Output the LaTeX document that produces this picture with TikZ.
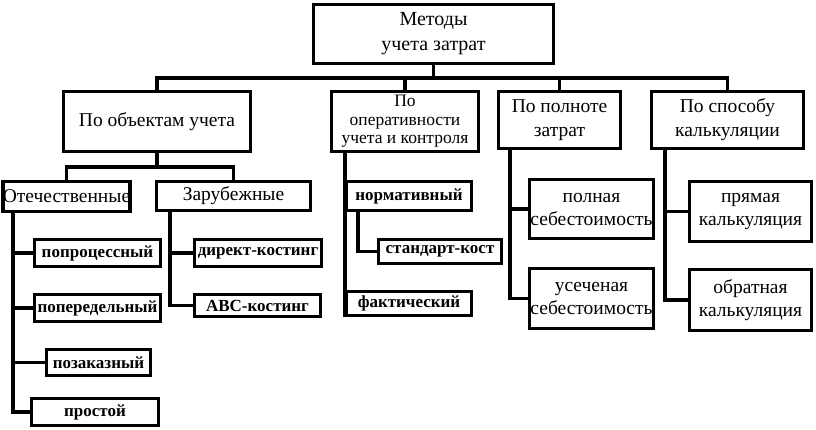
\documentclass[tikz,border=0pt]{standalone}
\usepackage{fontspec}
\setmainfont{Liberation Serif}
\tikzset{
  box/.style={draw,line width=3.5pt,inner sep=0pt,align=center,font=\fontsize{19.5}{24}\selectfont},
  leaf/.style={box,font=\bfseries\fontsize{17}{20}\selectfont},
  link/.style={line width=3.5pt},
}
\begin{document}
\begin{tikzpicture}[x=1pt,y=-1pt]
  \useasboundingbox (0,0) rectangle (816,429);

  \node[box,minimum width=240pt,minimum height=59pt,font=\fontsize{20}{25}\selectfont] (top) at (433.5,34) {Методы\\учета затрат};

  \node[box,minimum width=187pt,minimum height=60pt] (obj) at (157,121.5) {По объектам учета};
  \node[box,minimum width=147pt,minimum height=60pt,font=\fontsize{17.5}{18.5}\selectfont] (oper) at (405,121.5) {По\\оперативности\\учета и контроля};
  \node[box,minimum width=122pt,minimum height=57pt] (full) at (559.5,120) {По полноте\\затрат};
  \node[box,minimum width=152pt,minimum height=57pt] (calc) at (727.5,120) {По способу\\калькуляции};

  \node[box,minimum width=124pt,minimum height=30pt] (domestic) at (66.5,196.5) {Отечественные};
  \node[box,minimum width=154pt,minimum height=29pt] (foreign) at (233.5,196) {Зарубежные};

  \node[leaf,minimum width=126pt,minimum height=27pt] (process) at (97.5,253) {попроцессный};
  \node[leaf,minimum width=126pt,minimum height=27pt] (stage) at (97.5,308) {попередельный};
  \node[leaf,minimum width=104pt,minimum height=26pt] (order) at (98.5,362.5) {позаказный};
  \node[leaf,minimum width=127pt,minimum height=27pt] (simple) at (95,412) {простой};

  \node[leaf,minimum width=127pt,minimum height=27pt] (direct) at (258,253) {директ-костинг};
  \node[leaf,minimum width=126pt,minimum height=22pt] (abc) at (257.5,305.5) {ABC-костинг};

  \node[leaf,minimum width=125pt,minimum height=29pt] (norm) at (409,196) {нормативный};
  \node[leaf,minimum width=123pt,minimum height=24pt] (std) at (440,251.5) {стандарт-кост};
  \node[leaf,minimum width=125pt,minimum height=24pt] (fact) at (409,303.5) {фактический};

  \node[box,minimum width=124pt,minimum height=59pt,font=\fontsize{19.5}{23}\selectfont] (whole) at (591.5,209) {полная\\себестоимость};
  \node[box,minimum width=124pt,minimum height=60pt,font=\fontsize{19.5}{23}\selectfont] (trunc) at (591.5,298.5) {усеченая\\себестоимость};

  \node[box,minimum width=122pt,minimum height=60pt,font=\fontsize{19.5}{23}\selectfont] (straight) at (750.5,211.5) {прямая\\калькуляция};
  \node[box,minimum width=122pt,minimum height=61pt,font=\fontsize{19.5}{23}\selectfont] (reverse) at (750.5,300) {обратная\\калькуляция};

  % main bus
  \coordinate (bus) at (433.5,78);
  \draw[link] (top.south) -- (bus);
  \draw[link] (obj.north) |- (bus) -| (calc.north);
  \draw[link] (oper.north) -- (oper.north |- bus);
  \draw[link] (full.north) -- (full.north |- bus);

  % by objects
  \coordinate (objbus) at (157,167);
  \draw[link] (obj.south) -- (objbus);
  \draw[link] (domestic.north) |- (objbus) -| (foreign.north);

  \coordinate (domline) at ([xshift=12pt]domestic.south west);
  \draw[link] (domline) |- (simple.west);
  \draw[link] (process.west) -- (process.west -| domline);
  \draw[link] (stage.west) -- (stage.west -| domline);
  \draw[link] (order.west) -- (order.west -| domline);

  \coordinate (forline) at ([xshift=15pt]foreign.south west);
  \draw[link] (forline) |- (abc.west);
  \draw[link] (direct.west) -- (direct.west -| forline);

  % by operativeness
  \coordinate (operline) at ([xshift=15pt]oper.south west);
  \draw[link] (operline) -- (fact.south west);
  \draw[link] ([xshift=13pt]norm.south west) |- (std.west);

  % by completeness
  \coordinate (fullline) at ([xshift=13pt]full.south west);
  \draw[link] (fullline) |- (trunc.west);
  \draw[link] (whole.west) -- (whole.west -| fullline);

  % by calculation
  \coordinate (calcline) at ([xshift=15pt]calc.south west);
  \draw[link] (calcline) |- (reverse.west);
  \draw[link] (straight.west) -- (straight.west -| calcline);
\end{tikzpicture}
\end{document}
